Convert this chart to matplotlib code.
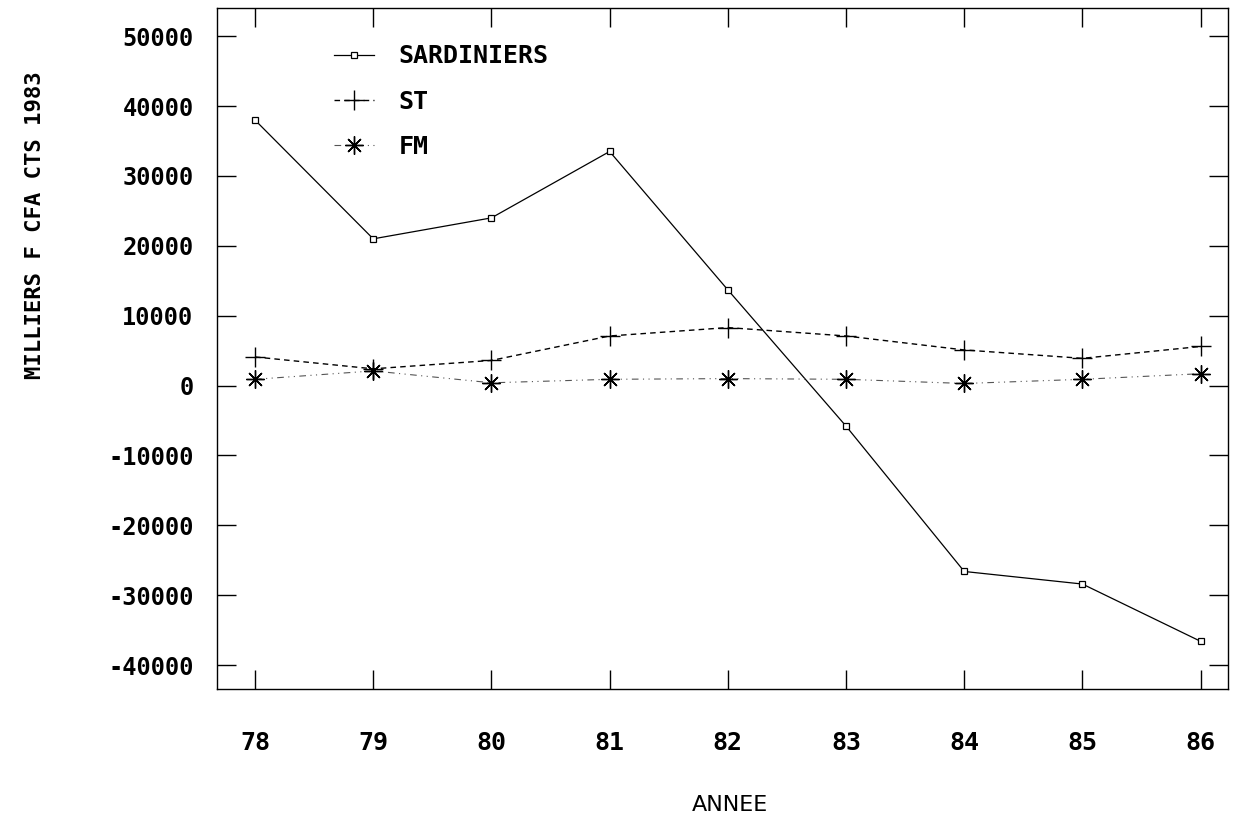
import matplotlib
matplotlib.use('Agg')
import matplotlib.pyplot as plt

# données
annees = [78, 79, 80, 81, 82, 83, 84, 85, 86]
sardiniers = [38000, 21000, 24000, 33500, 13700, -5800, -26600, -28400, -36600]
st = [4100, 2400, 3600, 7100, 8300, 7100, 5100, 3900, 5600]
fm = [900, 2100, 400, 900, 1000, 900, 300, 900, 1700]
yticks = [50000, 40000, 30000, 20000, 10000, 0, -10000, -20000, -30000, -40000]

police = 'DejaVu Sans Mono'

fig = plt.figure(figsize=(12.34, 8.24), dpi=100)
ax = fig.add_axes([0.176, 0.164, 0.819, 0.826])

ax.plot(annees, sardiniers, color='black', linewidth=0.9, marker='s', markersize=4,
        markerfacecolor='white', markeredgewidth=0.9, label='SARDINIERS')
ax.plot(annees, st, color='black', linewidth=1.0, linestyle=(0, (4, 3)), marker='+',
        markersize=14, markeredgewidth=1.0, label='ST')
ax.plot(annees, fm, color='#555555', linewidth=0.8, linestyle=(0, (6, 4, 1, 4, 1, 4)),
        marker=(8, 2, 0), markersize=13, markeredgewidth=1.0, markeredgecolor='black',
        label='FM')

ax.set_xlim(77.68, 86.23)
ax.set_ylim(-43400, 54000)
ax.set_xticks(annees)
ax.set_xticklabels([str(a) for a in annees], fontfamily=police, fontsize=18, fontweight='bold')
ax.set_yticks(yticks)
ax.set_yticklabels([str(v) for v in yticks], fontfamily=police, fontsize=17, fontweight='bold')

ax.tick_params(axis='both', direction='in', length=14, width=1.0, top=True, right=True)
ax.tick_params(axis='x', pad=30)
ax.tick_params(axis='y', pad=17)
for s in ax.spines.values():
    s.set_linewidth(1.0)

fig.text(730 / 1234, 1 - 805 / 824, 'ANNEE', fontsize=16, fontfamily='DejaVu Sans',
         ha='center', va='center')
fig.text(35 / 1234, 1 - 225 / 824, 'MILLIERS F CFA CTS 1983', rotation=90,
         fontfamily=police, fontweight='bold', fontsize=16, ha='center', va='center')

ax.legend(loc='upper left', bbox_to_anchor=(0.093, 0.98), frameon=False,
          prop={'family': police, 'size': 18, 'weight': 'bold'}, handlelength=1.6,
          labelspacing=0.85, handletextpad=1.0)

fig.savefig('out.png', dpi=100)
